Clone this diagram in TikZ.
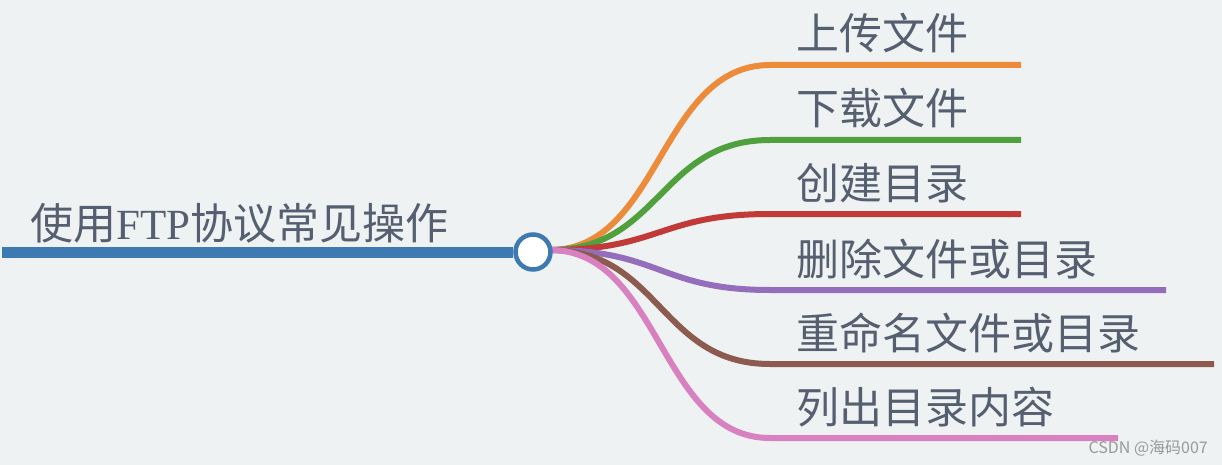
\documentclass[tikz,border=0pt]{standalone}
\usepackage{fontspec}
\newfontfamily\cjk{Noto Sans CJK SC}
\newfontfamily\serif{Liberation Serif}
\usetikzlibrary{positioning,calc}
\definecolor{bgcol}{RGB}{238,242,243}
\definecolor{txtcol}{RGB}{85,95,112}
\definecolor{rootblue}{RGB}{62,122,178}
\definecolor{corange}{RGB}{236,140,58}
\definecolor{cgreen}{RGB}{80,160,62}
\definecolor{cred}{RGB}{193,58,56}
\definecolor{cpurple}{RGB}{148,110,188}
\definecolor{cbrown}{RGB}{140,90,78}
\definecolor{cpink}{RGB}{216,128,192}
\tikzset{
  branch/.style={line width=6pt},
  lbl/.style={font=\fontsize{43}{43}\selectfont\cjk,text=txtcol,inner sep=0pt,anchor=base west},
}

\begin{document}
\begin{tikzpicture}[x=1pt,y=-1pt]
        \fill[bgcol] (0,0) rectangle (1222,465);
        \useasboundingbox (0,0) rectangle (1222,465);
        \coordinate (fork) at (550,250);
        % branches: y of line, end x, colour, label
        \foreach \y/\ex/\col/\txt [count=\i] in {65/1021/corange/上传文件, 140/1021/cgreen/下载文件,
            214/1021/cred/创建目录, 290/1166/cpurple/删除文件或目录,
            364/1214/cbrown/重命名文件或目录, 438/1118/cpink/列出目录内容}{
          \coordinate (e\i) at (\ex,\y);
          \draw[branch,\col] (fork) .. controls (660,250) and (660,\y) .. (770,\y) -- (e\i);
          \node[lbl] (t\i) at (796,\y-15) {\txt};
        }
        \node[circle,draw=rootblue,line width=4.5pt,fill=white,minimum size=35pt,inner sep=0pt] (hub) at (533,252) {};
        \coordinate (rs) at (2,252.5);
        \draw[rootblue,line width=11.5pt] (rs) -- (hub.west |- rs);
        \node[lbl] (root) at (30,239) {使用{\serif FTP}协议常见操作};
        \node[font=\fontsize{16}{16}\selectfont\cjk,text=black!40,inner sep=0pt,anchor=base east] (wm) at (1208,453) {CSDN @海码007};
      \end{tikzpicture}
\end{document}
